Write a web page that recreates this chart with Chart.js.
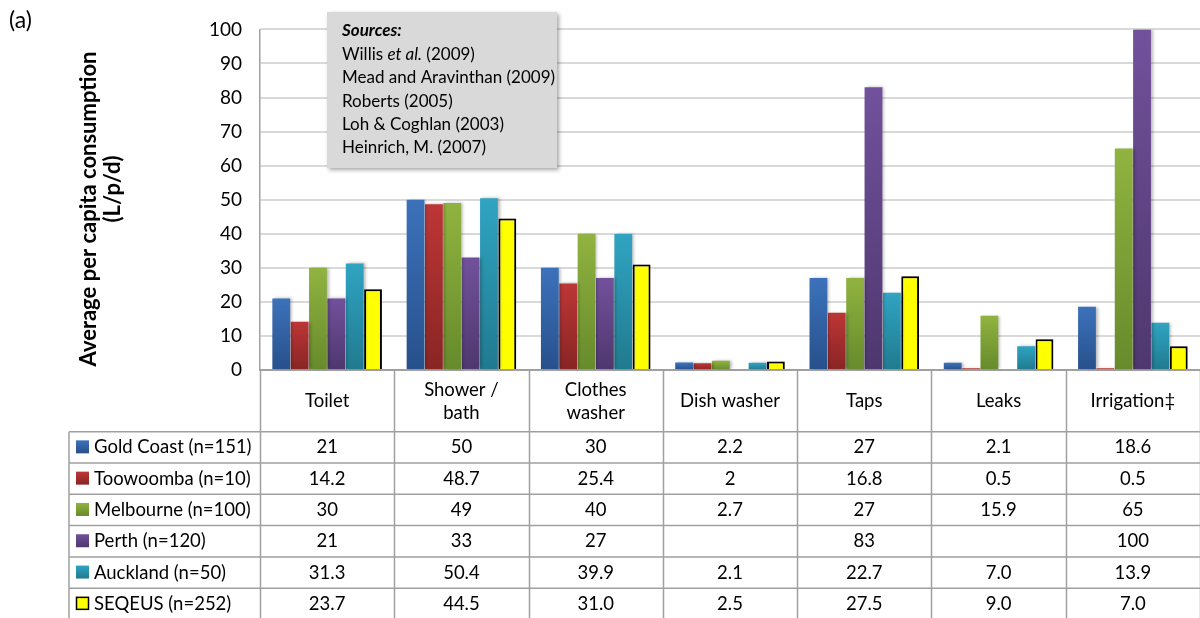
<!DOCTYPE html>
<html>
<head>
<meta charset="utf-8">
<script src="https://cdn.jsdelivr.net/npm/chart.js@4"></script>
<style>
  body { margin: 0; background: #fff; }
  #wrap { width: 1200px; height: 618px; position: relative; }
</style>
</head>
<body>
<div id="wrap"><canvas id="usoChart"></canvas></div>
<script>
// categorias y series (L/p/d)
var categorias = ['Toilet', ['Shower /', 'bath'], ['Clothes', 'washer'], 'Dish washer', 'Taps', 'Leaks', 'Irrigation\u2021'];
var nombresSeries = ['Gold Coast (n=151)', 'Toowoomba (n=10)', 'Melbourne (n=100)', 'Perth (n=120)', 'Auckland (n=50)', 'SEQEUS (n=252)'];
var goldCoast = [21, 50, 30, 2.2, 27, 2.1, 18.6];
var toowoomba = [14.2, 48.7, 25.4, 2, 16.8, 0.5, 0.5];
var melbourne = [30, 49, 40, 2.7, 27, 15.9, 65];
var perth = [21, 33, 27, null, 83, null, 100];
var auckland = [31.3, 50.4, 39.9, 2.1, 22.7, 7.0, 13.9];
var seqeus = [23.7, 44.5, 31.0, 2.5, 27.5, 9.0, 7.0];
var decimales = [null, null, null, null, 1, 1];   // como se muestran en la tabla
var ticksY = [0, 10, 20, 30, 40, 50, 60, 70, 80, 90, 100];
var tituloY = ['Average per capita consumption', '(L/p/d)'];
var fuentes = ['Willis |et al.| (2009)', 'Mead and Aravinthan (2009)', 'Roberts (2005)', 'Loh & Coghlan (2003)', 'Heinrich, M. (2007)'];

var series = [goldCoast, toowoomba, melbourne, perth, auckland, seqeus];
var colores = [
  ['#3c72bb', '#27508b'],
  ['#bd3636', '#882524'],
  ['#90b340', '#678a2c'],
  ['#72519c', '#4e376e'],
  ['#30a4c2', '#207a8f'],
  ['#ffff00', '#ffff00']
];
var FONT = 'Lato, "Open Sans", sans-serif';

function degradado(i) {
  return function(ctx) {
    var chart = ctx.chart;
    var area = chart.chartArea;
    if (!area || ctx.raw == null) return colores[i][0];
    var y = chart.scales.y;
    var top = y.getPixelForValue(ctx.raw);
    var bottom = y.getPixelForValue(0);
    if (bottom - top < 1) return colores[i][1];
    var g = chart.ctx.createLinearGradient(0, top, 0, bottom);
    g.addColorStop(0, colores[i][0]);
    g.addColorStop(1, colores[i][1]);
    return g;
  };
}

var datasets = series.map(function(d, i) {
  return {
    label: nombresSeries[i],
    data: d,
    backgroundColor: degradado(i),
    borderColor: i == 5 ? '#000' : 'transparent',
    borderWidth: i == 5 ? 2 : 0,
    categoryPercentage: 0.82,
    barPercentage: 0.97
  };
});

var sombra = {
  id: 'sombra',
  beforeDatasetsDraw: function(chart) {
    var c = chart.ctx;
    c.save();
    c.shadowColor = 'rgba(0,0,0,0.28)';
    c.shadowBlur = 3;
    c.shadowOffsetX = 2;
    c.shadowOffsetY = 0;
  },
  afterDatasetsDraw: function(chart) {
    chart.ctx.restore();
  }
};

var tabla = {
  id: 'tabla',
  afterDraw: function(chart) {
    var c = chart.ctx;
    var area = chart.chartArea;
    var n = categorias.length;
    var w = (area.right - area.left) / n;
    var y0 = area.bottom;
    var filaTop = 431.7, filaH = 31.3;
    var izq = 69;
    c.save();

    // "(a)"
    c.fillStyle = '#000';
    c.font = '23px ' + FONT;
    c.textAlign = 'left';
    c.textBaseline = 'middle';
    c.fillText('(a)', 9, 21);

    // titulo del eje y
    c.save();
    c.font = 'bold 22px ' + FONT;
    c.textAlign = 'center';
    c.translate(89, 209);
    c.rotate(-Math.PI / 2);
    c.fillText(tituloY[0], 0, 0);
    c.restore();
    c.save();
    c.font = 'bold 22px ' + FONT;
    c.textAlign = 'center';
    c.translate(113, 189);
    c.rotate(-Math.PI / 2);
    c.fillText(tituloY[1], 0, 0);
    c.restore();

    // caja de fuentes
    c.save();
    c.shadowColor = 'rgba(0,0,0,0.35)';
    c.shadowBlur = 4;
    c.shadowOffsetX = 2;
    c.shadowOffsetY = 2;
    c.fillStyle = '#d9d9d9';
    c.fillRect(327, 12, 230, 156);
    c.restore();
    c.fillStyle = '#000';
    c.font = 'italic bold 17px ' + FONT;
    c.fillText('Sources:', 342, 31);
    fuentes.forEach(function(t, k) {
      var partes = t.split('|');
      var x = 342;
      partes.forEach(function(p, j) {
        c.font = (j % 2 ? 'italic ' : '') + '17px ' + FONT;
        c.fillText(p, x, 54.5 + k * 23.3);
        x += c.measureText(p).width;
      });
    });

    // lineas de la tabla
    c.strokeStyle = '#a0a0a0';
    c.lineWidth = 1.5;
    c.beginPath();
    for (var k = 0; k <= n; k++) {
      var x = Math.round(area.left + k * w) + 0.5;
      c.moveTo(x, y0);
      c.lineTo(x, 618);
    }
    c.moveTo(izq, filaTop);
    c.lineTo(izq, 618);
    for (var r = 0; r <= series.length; r++) {
      var yy = filaTop + r * filaH;
      c.moveTo(izq, yy);
      c.lineTo(1200, yy);
    }
    c.stroke();

    // encabezados de categoria
    c.fillStyle = '#000';
    c.font = '18.5px ' + FONT;
    c.textAlign = 'center';
    var xs = chart.scales.x;
    categorias.forEach(function(cat, k) {
      var cx = xs.getPixelForValue(k);
      if (Array.isArray(cat)) {
        c.fillText(cat[0], cx, 390);
        c.fillText(cat[1], cx, 413);
      } else {
        c.fillText(cat, cx, 401);
      }
    });

    // filas: leyenda y valores
    series.forEach(function(d, r) {
      var cy = filaTop + r * filaH + filaH / 2;
      c.fillStyle = colores[r][0];
      if (r == 5) {
        c.fillRect(76, cy - 7, 13, 13);
        c.strokeStyle = '#000';
        c.lineWidth = 1.5;
        c.strokeRect(76.5, cy - 6.5, 12, 12);
      } else {
        var g = c.createLinearGradient(0, cy - 7, 0, cy + 6);
        g.addColorStop(0, colores[r][0]);
        g.addColorStop(1, colores[r][1]);
        c.fillStyle = g;
        c.fillRect(76, cy - 7, 13, 13);
      }
      c.fillStyle = '#000';
      c.textAlign = 'left';
      c.fillText(nombresSeries[r], 94, cy);
      c.textAlign = 'center';
      d.forEach(function(v, k) {
        if (v == null) return;
        var txt = decimales[r] ? v.toFixed(decimales[r]) : String(v);
        c.fillText(txt, xs.getPixelForValue(k), cy);
      });
    });
    c.restore();
  }
};

new Chart(document.getElementById('usoChart'), {
  type: 'bar',
  data: { labels: categorias, datasets: datasets },
  plugins: [sombra, tabla],
  options: {
    responsive: true,
    maintainAspectRatio: false,
    animation: false,
    layout: { padding: { left: 0, top: 19, right: 0, bottom: 0 } },
    plugins: { legend: { display: false }, tooltip: { enabled: false } },
    scales: {
      x: {
        ticks: { display: false },
        grid: { display: false },
        border: { color: '#a0a0a0', width: 2 },
        afterFit: function(s) { s.height = 248; }
      },
      y: {
        min: 0,
        max: 100,
        afterBuildTicks: function(s) { s.ticks = ticksY.map(function(v) { return { value: v }; }); },
        ticks: { color: '#000', font: { size: 19, family: FONT }, padding: 18 },
        grid: { color: '#d9d9d9', lineWidth: 2, drawTicks: false },
        border: { color: '#a0a0a0', width: 1.5 },
        afterFit: function(s) { s.width = 260; }
      }
    }
  }
});
</script>
</body>
</html>
